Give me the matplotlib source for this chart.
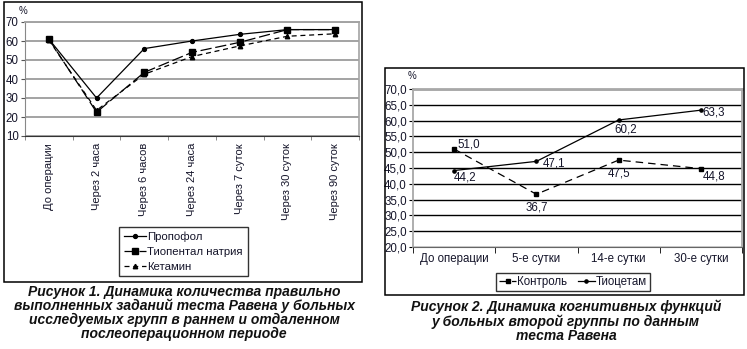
import numpy as np
import matplotlib
matplotlib.use("Agg")
import matplotlib.pyplot as plt
from matplotlib.patches import Rectangle

plt.rcParams['font.family'] = ['Liberation Sans', 'DejaVu Sans']

# ---- Figure 1 data: correct Raven test tasks, % ----
stages1 = ["До операции", "Через 2 часа", "Через 6 часов", "Через 24 часа",
           "Через 7 суток", "Через 30 суток", "Через 90 суток"]
propofol = [61, 30, 56, 60, 63.5, 66, 66]
thiopental = [61, 22.5, 43.5, 54, 59.3, 66, 66]
ketamine = [60.5, 23.5, 42.5, 51.8, 57.4, 62.5, 63.8]
yticks1 = [10, 20, 30, 40, 50, 60, 70]

# ---- Figure 2 data: cognitive function, % ----
stages2 = ["До операции", "5-е сутки", "14-е сутки", "30-е сутки"]
control = [51.0, 36.7, 47.5, 44.8]
tiocetam = [44.2, 47.1, 60.2, 63.3]
yticks2 = [20, 25, 30, 35, 40, 45, 50, 55, 60, 65, 70]

W, H = 747, 349
TXT = '#15152a'
fig = plt.figure(figsize=(W / 100, H / 100), dpi=100)


def fx(px):
    return px / W


def fy(py):
    return 1 - py / H


# outer frames
for (x0, y0, x1, y1) in [(4, 2, 362, 282), (385, 68, 744, 295)]:
    fig.add_artist(Rectangle((fx(x0), fy(y1)), fx(x1 - x0), (y1 - y0) / H,
                             transform=fig.transFigure, fill=False,
                             ec='black', lw=1.1))

# ================= Figure 1 =================
ax1 = fig.add_axes([fx(25), fy(136), fx(334), 114 / H])
x1 = np.arange(len(stages1))
ax1.set_xlim(-0.5, len(stages1) - 0.5)
ax1.set_ylim(10, 70)
ax1.set_yticks(yticks1)
ax1.set_yticklabels([str(v) for v in yticks1], fontsize=8.3, color=TXT)
ax1.yaxis.grid(True, color='#a3a3a3', lw=1.4)
ax1.set_axisbelow(True)
ax1.set_xticks(x1)
ax1.set_xticklabels(stages1, rotation=90, ha='center', va='top',
                    fontsize=8, color=TXT)
ax1.set_xticks(np.arange(-0.5, len(stages1)), minor=True)
ax1.tick_params(axis='x', which='major', length=0, pad=5)
ax1.tick_params(axis='x', which='minor', length=3, color='#777777')
ax1.tick_params(axis='y', length=3, width=0.8, pad=1.5, color='#555555')
for s in ['top', 'right', 'left']:
    ax1.spines[s].set_color('#a3a3a3')
ax1.spines['top'].set_linewidth(1.4)
ax1.spines['right'].set_linewidth(1.2)
ax1.spines['left'].set_color('#888888')
ax1.spines['bottom'].set_color('#333333')

l_p, = ax1.plot(x1, propofol, color='black', lw=0.9, marker='o', ms=2.8,
                label='Пропофол')
l_t, = ax1.plot(x1, thiopental, color='black', lw=0.9, ls=(0, (9, 3)),
                marker='s', ms=4.2, label='Тиопентал натрия')
l_k, = ax1.plot(x1, ketamine, color='black', lw=0.9, ls=(0, (4, 3)),
                marker='^', ms=3.2, label='Кетамин')

fig.text(fx(23), fy(11), '%', ha='center', va='center', fontsize=7,
         color=TXT)

leg1 = fig.legend(handles=[l_p, l_t, l_k], loc='upper left',
                  bbox_to_anchor=(fx(119), fy(227)), fontsize=8.2,
                  frameon=True, fancybox=False, edgecolor='black',
                  handlelength=2.0, handletextpad=0.1, borderpad=0.4,
                  labelspacing=0.42, borderaxespad=0)
leg1.get_frame().set_linewidth(1.0)
for t in leg1.get_texts():
    t.set_color(TXT)

# ================= Figure 2 =================
ax2 = fig.add_axes([fx(413), fy(247), fx(329), 158 / H])
x2 = np.arange(len(stages2))
ax2.set_xlim(-0.5, len(stages2) - 0.5)
ax2.set_ylim(20, 70)
ax2.set_yticks(yticks2)
ax2.set_yticklabels([f"{v:.1f}".replace('.', ',') for v in yticks2],
                    fontsize=8.3, color=TXT)
ax2.yaxis.grid(True, color='black', lw=1.0)
ax2.set_axisbelow(True)
ax2.set_xticks(x2)
ax2.set_xticklabels(stages2, fontsize=8.3, color=TXT)
ax2.set_xticks(np.arange(-0.5, len(stages2)), minor=True)
ax2.tick_params(axis='x', which='major', length=0, pad=4)
ax2.tick_params(axis='x', which='minor', length=4, color='black')
ax2.tick_params(axis='y', length=3, width=0.8, pad=1.5, color='black')
for s in ['top', 'right', 'left']:
    ax2.spines[s].set_color('#a8a8a8')
ax2.spines['top'].set_linewidth(2.0)
ax2.spines['right'].set_linewidth(1.3)
ax2.spines['left'].set_linewidth(1.3)
ax2.spines['bottom'].set_color('#666666')

l_c, = ax2.plot(x2, control, color='black', lw=0.9, ls=(0, (6, 4)),
                marker='s', ms=2.8, label='Контроль')
l_ti, = ax2.plot(x2, tiocetam, color='black', lw=0.9, marker='o', ms=2.3,
                 label='Тиоцетам')

fmt = lambda v: f"{v:.1f}".replace('.', ',')
# value labels: (series, index, dx, dy, ha)
label_specs = [
    (control, 0, 3, 5, 'left'),
    (tiocetam, 0, 0, -7, 'left'),
    (control, 1, 0, -13, 'center'),
    (tiocetam, 1, 6, -2, 'left'),
    (tiocetam, 2, 7, -10, 'center'),
    (control, 2, 0, -13, 'center'),
    (tiocetam, 3, 2, -2, 'left'),
    (control, 3, 2, -8, 'left'),
]
for series, i, dx, dy, ha in label_specs:
    ax2.annotate(fmt(series[i]), (x2[i], series[i]), xytext=(dx, dy),
                 textcoords='offset pixels', ha=ha, va='center',
                 fontsize=8.3, color=TXT)

fig.text(fx(412), fy(76), '%', ha='center', va='center', fontsize=7,
         color=TXT)

leg2 = fig.legend(handles=[l_c, l_ti], loc='lower left',
                  bbox_to_anchor=(fx(496), fy(291)), ncol=2, fontsize=8.3,
                  frameon=True, fancybox=False, edgecolor='black',
                  handlelength=1.5, handletextpad=0.1, columnspacing=0.9,
                  borderpad=0.25, borderaxespad=0)
leg2.get_frame().set_linewidth(1.0)
for t in leg2.get_texts():
    t.set_color(TXT)

# ================= Captions =================
cap_kw = dict(ha='center', va='center', fontsize=10, fontweight='bold',
              fontstyle='italic', color='#111111')
cap1 = ["Рисунок 1. Динамика количества правильно",
        "выполненных заданий теста Равена у больных",
        "исследуемых групп в раннем и отдаленном",
        "послеоперационном периоде"]
for k, line in enumerate(cap1):
    fig.text(fx(184), fy(292 + 14 * k), line, **cap_kw)

cap2 = ["Рисунок 2. Динамика когнитивных функций",
        "у больных второй группы по данным",
        "теста Равена"]
for k, line in enumerate(cap2):
    fig.text(fx(566), fy(307 + 14.3 * k), line, **cap_kw)

fig.savefig("out.png", dpi=100)
